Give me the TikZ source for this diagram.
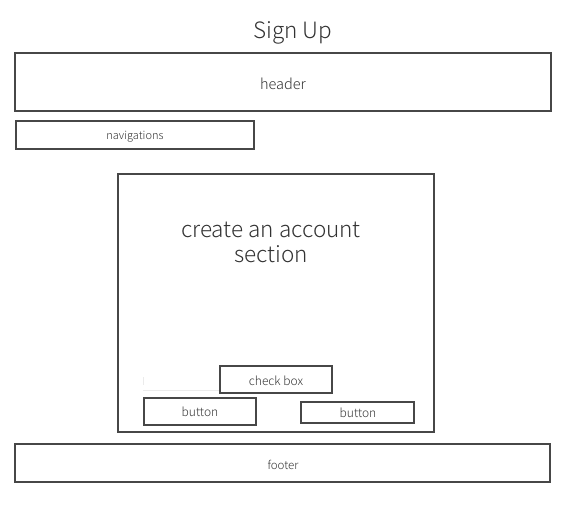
\documentclass[tikz,border=0pt]{standalone}
\usepackage{fontspec}
\setmainfont{Noto Sans CJK SC Light}
\begin{document}
\begin{tikzpicture}[x=1pt,y=-1pt,
  frame/.style={draw=black!72,line width=1.2pt,fill=white},
  lbl/.style={text=black!80,inner sep=0pt,align=center},
  faint/.style={draw=black!8,line width=0.8pt}]
\useasboundingbox (0,0) rectangle (580,507);
% title
\node[lbl,font=\fontsize{22.5}{26}\selectfont] (title) at (293,33) {Sign Up};
% header and navigation bars
\draw[frame] (15,53) rectangle (551,111);
\node[lbl,font=\fontsize{14.5}{17}\selectfont] (header) at (283,84) {header};
\draw[frame] (16,121) rectangle (254,149);
\node[lbl,font=\fontsize{11}{13}\selectfont] (nav) at (135,136.5) {navigations};
% account section panel
\draw[frame] (118,174) rectangle (434,432);
\node[lbl,font=\fontsize{22.5}{25}\selectfont] (section) at (271,242) {create an account\\section};
% faint leftover guide lines
\draw[faint] (143,377) -- (143,385);
\draw[faint] (143,390) -- (257,390);
% check box and buttons
\draw[frame] (220,366) rectangle (332,393);
\node[lbl,font=\fontsize{12}{14}\selectfont] (check) at (276,380.5) {check box};
\draw[frame] (144,398) rectangle (256,425);
\node[lbl,font=\fontsize{12}{14}\selectfont] (btnA) at (200,411.5) {button};
\draw[frame] (301,402) rectangle (414,423);
\node[lbl,font=\fontsize{12}{14}\selectfont] (btnB) at (358,413) {button};
% footer bar
\draw[frame] (15,444) rectangle (550,482);
\node[lbl,font=\fontsize{11.5}{14}\selectfont] (footer) at (283,464.5) {footer};
\end{tikzpicture}
\end{document}
